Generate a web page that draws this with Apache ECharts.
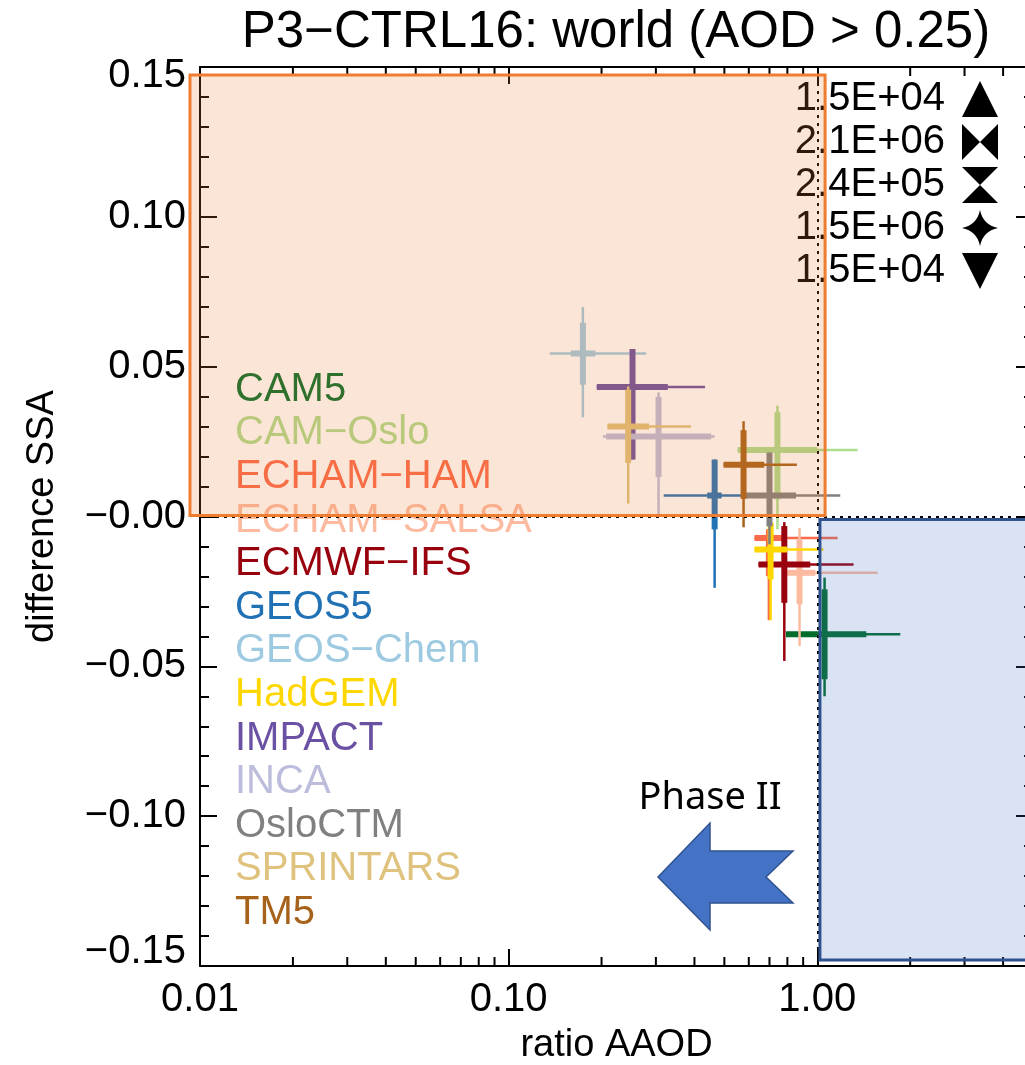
<!DOCTYPE html>
<html>
<head>
<meta charset="utf-8">
<title>P3-CTRL16: world (AOD > 0.25)</title>
<script src="https://cdn.jsdelivr.net/npm/echarts@6/dist/echarts.min.js"></script>
<style>
  html, body { margin: 0; padding: 0; background: #fff; }
  #chart { width: 1025px; height: 1065px; }
</style>
</head>
<body>
<div id="chart"></div>
<script>
// models and their colours
const models = ['CAM5', 'CAM−Oslo', 'ECHAM−HAM', 'ECHAM−SALSA', 'ECMWF−IFS', 'GEOS5', 'GEOS−Chem',
    'HadGEM', 'IMPACT', 'INCA', 'OsloCTM', 'SPRINTARS', 'TM5'];
const modelColors = ['#006d2c', '#addd8e', '#fb6a4a', '#fcbba1', '#99000d', '#2171b5', '#9ecae1',
    '#ffd700', '#6a51a3', '#bcbddc', '#808080', '#dfc27d', '#a6611a'];

// ratio AAOD: centre, whiskers (lo/hi) and thick part (q1/q3)
const xCenter = [1.056, 0.743, 0.697, 0.876, 0.782, 0.465, 0.174, 0.706, 0.252, 0.306, 0.700, 0.244, 0.577];
const xLo     = [0.792, 0.552, 0.626, 0.798, 0.645, 0.318, 0.136, 0.626, 0.193, 0.202, 0.577, 0.209, 0.497];
const xHi     = [1.858, 1.351, 1.164, 1.569, 1.311, 0.585, 0.279, 1.048, 0.433, 0.465, 1.187, 0.390, 0.859];
const xQ1     = [0.792, 0.552, 0.626, 0.798, 0.645, 0.440, 0.159, 0.626, 0.193, 0.207, 0.577, 0.209, 0.497];
const xQ3     = [1.442, 1.002, 0.798, 0.985, 0.949, 0.490, 0.191, 0.798, 0.328, 0.453, 0.853, 0.285, 0.673];

// difference SSA
const yCenter = [-0.0393, 0.0222, -0.0072, -0.0188, -0.0160, 0.0070, 0.0544, -0.0110, 0.0432, 0.0267, 0.0070, 0.0300, 0.0173];
const yLo     = [-0.0600, -0.0043, -0.0346, -0.0432, -0.0482, -0.0238, 0.0331, -0.0346, 0.0190, 0.0007, -0.0093, 0.0043, -0.0036];
const yHi     = [-0.0204, 0.0370, -0.0043, -0.0038, -0.0019, 0.0190, 0.0699, -0.0021, 0.0559, 0.0414, 0.0213, 0.0434, 0.0318];
const yQ1     = [-0.0543, 0.0057, -0.0199, -0.0293, -0.0288, -0.0043, 0.0440, -0.0210, 0.0190, 0.0132, -0.0033, 0.0179, 0.0059];
const yQ3     = [-0.0243, 0.0348, -0.0043, -0.0077, -0.0032, 0.0190, 0.0646, -0.0021, 0.0559, 0.0399, 0.0213, 0.0423, 0.0288];

// axes
const xMin = 0.01, xMax = 5;
const yMin = -0.15, yMax = 0.15;
const xTickValues = [0.01, 0.1, 1];
const xTickLabels = ['0.01', '0.10', '1.00'];
const xMinorTicks = [0.02, 0.03, 0.04, 0.05, 0.06, 0.07, 0.08, 0.09,
    0.2, 0.3, 0.4, 0.5, 0.6, 0.7, 0.8, 0.9, 2, 3, 4];
const yTickValues = [-0.15, -0.10, -0.05, 0, 0.05, 0.10, 0.15];
const yTickLabels = ['−0.15', '−0.10', '−0.05', '−0.00', '0.05', '0.10', '0.15'];

// size legend (top right)
const sizeLabels = ['1.5E+04', '2.1E+06', '2.4E+05', '1.5E+06', '1.5E+04'];
const sizeSymbols = ['triangle', 'bowtie', 'hourglass', 'star4', 'triangleDown'];

// shaded regions, in data units
const phase3Box = { x0: 0.00928, x1: 1.06, y0: 0.0003, y1: 0.1473 };
const phase2Box = { x0: 1.02, x1: 20, y0: -0.148, y1: -0.0010 };

const FONT = 'Liberation Sans, Arial, Helvetica, sans-serif';
const chart = echarts.init(document.getElementById('chart'));

const fmtY = v => {
    const i = yTickValues.findIndex(t => Math.abs(t - v) < 1e-9);
    if (i < 0) return '';
    if (i === yTickValues.length - 1) return '{top|' + yTickLabels[i] + '}';
    if (i === 0) return '{bot|' + yTickLabels[i] + '}';
    return yTickLabels[i];
};
const fmtX = v => {
    const i = xTickValues.findIndex(t => Math.abs(t - v) / t < 1e-6);
    return i < 0 ? '' : xTickLabels[i];
};

const renderCross = (params, api) => {
    const xc = api.value(0), yc = api.value(1);
    const color = api.visual('color');
    const seg = (a, b, w) => ({
        type: 'line',
        shape: { x1: a[0], y1: a[1], x2: b[0], y2: b[1] },
        style: { stroke: color, lineWidth: w }
    });
    return {
        type: 'group',
        children: [
            seg(api.coord([api.value(2), yc]), api.coord([api.value(3), yc]), 2.5),
            seg(api.coord([xc, api.value(6)]), api.coord([xc, api.value(7)]), 2.5),
            seg(api.coord([api.value(4), yc]), api.coord([api.value(5), yc]), 6),
            seg(api.coord([xc, api.value(8)]), api.coord([xc, api.value(9)]), 6)
        ]
    };
};

// log minor ticks (bottom and top)
const renderMinorTick = (params, api) => {
    const b = api.coord([api.value(0), yMin]);
    const t = api.coord([api.value(0), yMax]);
    const st = { stroke: '#000', lineWidth: 2 };
    return {
        type: 'group',
        children: [
            { type: 'line', shape: { x1: b[0], y1: b[1], x2: b[0], y2: b[1] - 9 }, style: st },
            { type: 'line', shape: { x1: t[0], y1: t[1], x2: t[0], y2: t[1] + 9 }, style: st }
        ]
    };
};

const crossSeries = models.map((m, i) => ({
    name: m,
    type: 'custom',
    renderItem: renderCross,
    itemStyle: { color: modelColors[i] },
    encode: { x: 0, y: 1 },
    dimensions: ['x', 'y', 'xlo', 'xhi', 'xq1', 'xq3', 'ylo', 'yhi', 'yq1', 'yq3'],
    data: [[xCenter[i], yCenter[i], xLo[i], xHi[i], xQ1[i], xQ3[i], yLo[i], yHi[i], yQ1[i], yQ3[i]]],
    z: 3,
    silent: true
}));

const axisCommon = {
    axisLine: { show: true, onZero: false, lineStyle: { color: '#000', width: 2 } },
    axisTick: { show: true, inside: true, length: 17, lineStyle: { color: '#000', width: 2 } },
    splitLine: { show: false }
};

const option = {
    animation: false,
    textStyle: { fontFamily: FONT, color: '#000' },
    // plot runs past the right edge of the picture (cropped between 4 and 5)
    grid: { left: 200, width: 833, top: 67, bottom: 99, containLabel: false, outerBoundsMode: 'none' },
    xAxis: [
        Object.assign({}, axisCommon, {
            type: 'log', min: xMin, max: xMax, logBase: 10,
            name: 'ratio AAOD', nameLocation: 'middle', nameGap: 61,
            nameTextStyle: { fontSize: 38, color: '#000', fontFamily: FONT },
            axisLabel: { fontSize: 40, color: '#000', margin: 14, formatter: fmtX, showMaxLabel: false, fontFamily: FONT }
        }),
        Object.assign({}, axisCommon, {
            type: 'log', min: xMin, max: xMax, logBase: 10, position: 'top',
            axisLabel: { show: false }
        })
    ],
    yAxis: [
        Object.assign({}, axisCommon, {
            type: 'value', min: yMin, max: yMax, interval: 0.05,
            name: 'difference SSA', nameLocation: 'middle', nameGap: 138,
            nameTextStyle: { fontSize: 38, color: '#000', fontFamily: FONT },
            minorTick: { show: true, splitNumber: 5, length: 9, lineStyle: { color: '#000', width: 2 } },
            axisLabel: {
                fontSize: 40, color: '#000', margin: 14, formatter: fmtY, fontFamily: FONT,
                rich: {
                    top: { fontSize: 40, fontFamily: FONT, color: '#000', padding: [18, 0, 0, 0] },
                    bot: { fontSize: 40, fontFamily: FONT, color: '#000', padding: [0, 0, 28, 0] }
                }
            }
        }),
        Object.assign({}, axisCommon, {
            type: 'value', min: yMin, max: yMax, interval: 0.05, position: 'right',
            minorTick: { show: true, splitNumber: 5, length: 9, lineStyle: { color: '#000', width: 2 } },
            axisLabel: { show: false }
        })
    ],
    legend: {
        orient: 'vertical', left: 230, top: 368, padding: 0,
        itemWidth: 0, itemHeight: 0, itemGap: 0, icon: 'rect',
        selectedMode: false,
        textStyle: { fontSize: 40, lineHeight: 43.6, fontFamily: FONT, padding: 0 },
        data: models.map((m, i) => ({ name: m, textStyle: { color: modelColors[i] } }))
    },
    series: [
        {
            name: 'minorTicks',
            type: 'custom',
            renderItem: renderMinorTick,
            encode: { x: 0, y: 1 },
            data: xMinorTicks.map(v => [v, 0]),
            silent: true,
            z: 1,
            markLine: {
                silent: true, symbol: 'none', animation: false,
                label: { show: false },
                lineStyle: { color: '#000', width: 2, type: [3, 5] },
                data: [{ xAxis: 1 }, { yAxis: 0 }]
            }
        }
    ].concat(crossSeries)
};

chart.setOption(option);

// annotations: boxes, arrow, title and size legend
const px = (x, y) => chart.convertToPixel({ gridIndex: 0 }, [x, y]);
const boxRect = b => {
    const p0 = px(b.x0, b.y1), p1 = px(b.x1, b.y0);
    return { x: p0[0], y: p0[1], width: p1[0] - p0[0], height: p1[1] - p0[1] };
};

// four-point star with concave sides, sampled from quadratic curves
const starPoints = () => {
    const tips = [[0, -18], [18, 0], [0, 18], [-18, 0]];
    const ctrl = [[3, -3], [3, 3], [-3, 3], [-3, -3]];
    const pts = [];
    for (let k = 0; k < 4; k++) {
        const a = tips[k], b = tips[(k + 1) % 4], c = ctrl[k];
        for (let s = 0; s < 8; s++) {
            const t = s / 8, u = 1 - t;
            pts.push([u * u * a[0] + 2 * u * t * c[0] + t * t * b[0], u * u * a[1] + 2 * u * t * c[1] + t * t * b[1]]);
        }
    }
    return pts;
};

const symbolShapes = {
    triangle: [[[0, -18], [18, 18], [-18, 18]]],
    bowtie: [[[-18, -18], [0, 0], [-18, 18]], [[18, -18], [0, 0], [18, 18]]],
    hourglass: [[[-18, -18], [18, -18], [0, 0]], [[-18, 18], [18, 18], [0, 0]]],
    star4: [starPoints()],
    triangleDown: [[[-18, -18], [18, -18], [0, 18]]]
};

const graphics = [];
sizeLabels.forEach((lab, i) => {
    const cy = 99 + i * 43;
    graphics.push({
        type: 'text', x: 945, y: cy, z: 50,
        style: { text: lab, font: '40px ' + FONT, fill: '#000', align: 'right', verticalAlign: 'middle' }
    });
    symbolShapes[sizeSymbols[i]].forEach(pts => graphics.push({
        type: 'polygon', x: 980, y: cy, z: 50,
        shape: { points: pts },
        style: { fill: '#000' }
    }));
});

graphics.push({
    type: 'rect', z: 100, shape: boxRect(phase3Box),
    style: { fill: 'rgba(237,125,49,0.2)', stroke: '#ED7D31', lineWidth: 3 }
});
graphics.push({
    type: 'rect', z: 100, shape: boxRect(phase2Box),
    style: { fill: 'rgba(68,114,196,0.2)', stroke: '#2F528F', lineWidth: 3 }
});
graphics.push({
    type: 'polygon', z: 100,
    shape: { points: [[658, 877], [710, 823], [710, 851], [793, 851], [766, 877], [793, 903], [710, 903], [710, 930]] },
    style: { fill: '#4472C4', stroke: '#2F528F', lineWidth: 1.5 }
});
graphics.push({
    type: 'text', x: 710, y: 798, z: 100,
    style: { text: 'Phase II', font: '38px "Noto Sans", "Open Sans", sans-serif', fill: '#000', align: 'center', verticalAlign: 'middle' }
});
graphics.push({
    type: 'text', x: 616, y: 33, z: 100,
    style: { text: 'P3−CTRL16: world (AOD > 0.25)', font: '51px ' + FONT, fill: '#000', align: 'center', verticalAlign: 'middle' }
});

chart.setOption({ graphic: graphics });
window.addEventListener('resize', () => chart.resize());
</script>
</body>
</html>
